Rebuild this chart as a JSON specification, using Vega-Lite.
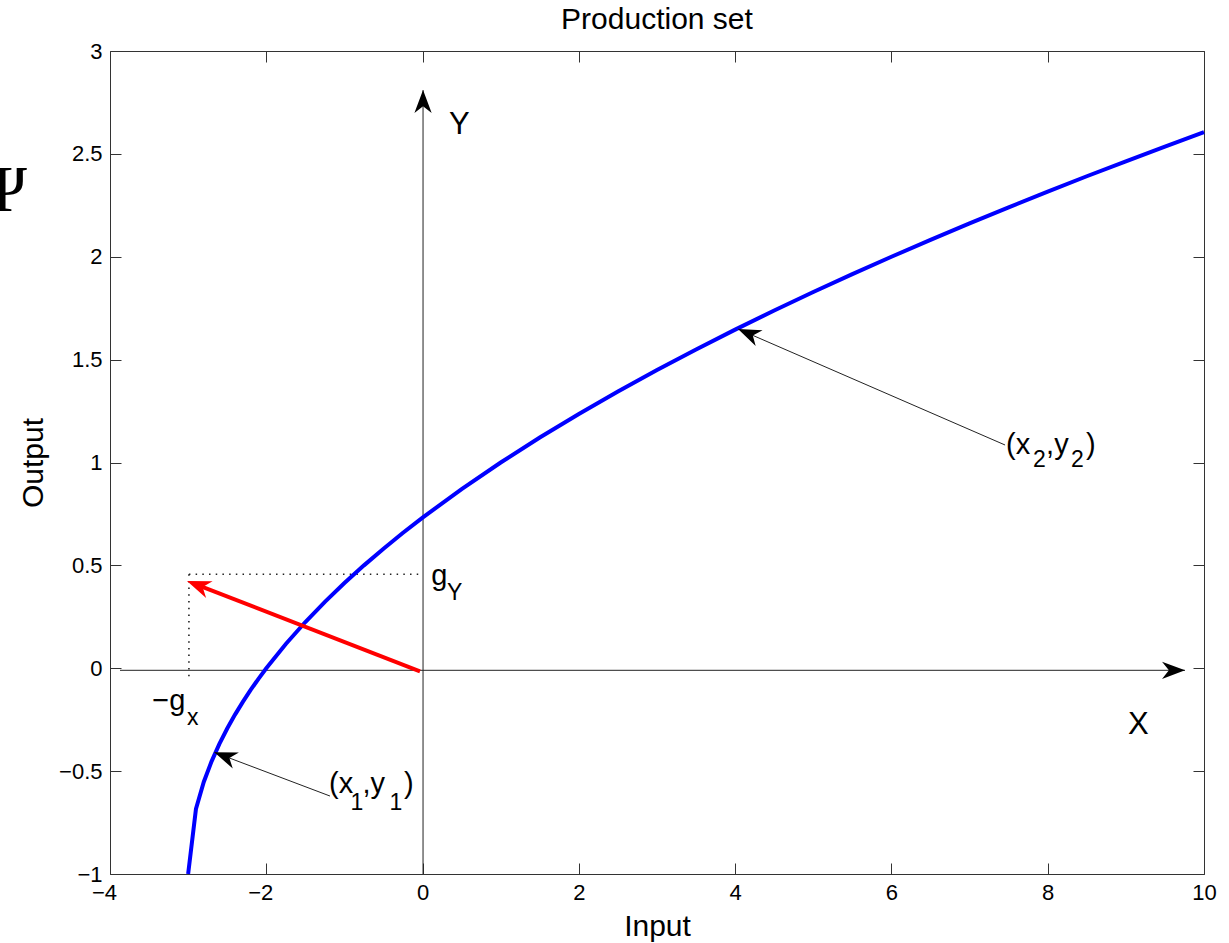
{
  "$schema": "https://vega.github.io/schema/vega-lite/v6.json",
  "width": 1094,
  "height": 823,
  "autosize": {"type": "none"},
  "padding": {"left": 110, "top": 51, "right": 25, "bottom": 69},
  "background": "white",
  "title": {
    "text": "Production set",
    "font": "Liberation Sans",
    "fontSize": 30,
    "fontWeight": "normal",
    "color": "black",
    "anchor": "middle",
    "frame": "group",
    "baseline": "alphabetic",
    "offset": -19
  },
  "config": {
    "font": "Liberation Sans",
    "view": {"stroke": null},
    "axis": {
      "grid": false,
      "domainColor": "#333333",
      "domainWidth": 1,
      "tickColor": "#333333",
      "tickWidth": 1,
      "tickSize": -11,
      "format": "~r",
      "labelFont": "Liberation Sans",
      "labelFontSize": 22,
      "labelColor": "black",
      "labelFlush": false,
      "labelOverlap": false,
      "titleFont": "Liberation Sans",
      "titleFontSize": 30,
      "titleFontWeight": "normal",
      "titleColor": "black"
    }
  },
  "datasets": {
    "curve": [
      {"x": -3, "y": -1}, {"x": -2.9, "y": -0.6838}, {"x": -2.8, "y": -0.5528},
      {"x": -2.7, "y": -0.4523}, {"x": -2.6, "y": -0.3675}, {"x": -2.5, "y": -0.2929},
      {"x": -2.4, "y": -0.2254}, {"x": -2.3, "y": -0.1633}, {"x": -2.2, "y": -0.1056},
      {"x": -2.1, "y": -0.0513}, {"x": -2, "y": 0}, {"x": -1.75, "y": 0.118},
      {"x": -1.5, "y": 0.2247}, {"x": -1.25, "y": 0.3229}, {"x": -1, "y": 0.4142},
      {"x": -0.75, "y": 0.5}, {"x": -0.5, "y": 0.5811}, {"x": -0.25, "y": 0.6583},
      {"x": 0, "y": 0.7321}, {"x": 0.5, "y": 0.8708}, {"x": 1, "y": 1},
      {"x": 1.5, "y": 1.1213}, {"x": 2, "y": 1.2361}, {"x": 2.5, "y": 1.3452},
      {"x": 3, "y": 1.4495}, {"x": 3.5, "y": 1.5495}, {"x": 4, "y": 1.6458},
      {"x": 4.5, "y": 1.7386}, {"x": 5, "y": 1.8284}, {"x": 5.5, "y": 1.9155},
      {"x": 6, "y": 2}, {"x": 6.5, "y": 2.0822}, {"x": 7, "y": 2.1623},
      {"x": 7.5, "y": 2.2404}, {"x": 8, "y": 2.3166}, {"x": 8.5, "y": 2.3912},
      {"x": 9, "y": 2.4641}, {"x": 9.5, "y": 2.5355}, {"x": 10, "y": 2.6056}
    ],
    "cross": [
      {"x": -3.872, "y": -0.01, "x2": 9.757, "y2": -0.01},
      {"x": 0.006, "y": -1, "x2": 0.006, "y2": 2.81}
    ],
    "dotted": [
      {"x": -2.99, "y": 0.457, "x2": 0.0, "y2": 0.457},
      {"x": -2.99, "y": 0.457, "x2": -2.99, "y2": -0.04}
    ],
    "pointers": [
      {"x": 7.454, "y": 1.085, "x2": 4.037, "y2": 1.649},
      {"x": -1.185, "y": -0.621, "x2": -2.665, "y2": -0.4085}
    ],
    "heads": [
      {"x": 0.006, "y": 2.81, "angle": 270},
      {"x": 9.757, "y": -0.01, "angle": 0},
      {"x": 4.037, "y": 1.649, "angle": 203.5},
      {"x": -2.665, "y": -0.4085, "angle": 200.8}
    ],
    "gradient": [
      {"x": -0.033, "y": -0.015, "x2": -2.835, "y2": 0.398}
    ],
    "gradientHead": [
      {"x": -3.015, "y": 0.424, "angle": 201.1}
    ],
    "labels": [
      {"text": "Y", "x": 0.338, "y": 2.597, "kind": "big"},
      {"text": "X", "x": 9.028, "y": -0.32, "kind": "big"},
      {"text": "g", "x": 0.11, "y": 0.405, "kind": "main"},
      {"text": "Y", "x": 0.313, "y": 0.332, "kind": "sub"},
      {"text": "−g", "x": -3.46, "y": -0.203, "kind": "main"},
      {"text": "x", "x": -3.015, "y": -0.276, "kind": "sub"},
      {"text": "(x", "x": -1.197, "y": -0.608, "kind": "main"},
      {"text": "1", "x": -0.922, "y": -0.689, "kind": "sub"},
      {"text": ",y", "x": -0.769, "y": -0.608, "kind": "main"},
      {"text": "1", "x": -0.423, "y": -0.689, "kind": "sub"},
      {"text": ")", "x": -0.238, "y": -0.608, "kind": "main"},
      {"text": "(x", "x": 7.467, "y": 1.041, "kind": "main"},
      {"text": "2", "x": 7.812, "y": 0.978, "kind": "sub"},
      {"text": ",y", "x": 7.979, "y": 1.041, "kind": "main"},
      {"text": "2", "x": 8.298, "y": 0.978, "kind": "sub"},
      {"text": ")", "x": 8.49, "y": 1.041, "kind": "main"}
    ],
    "symbol": [
      {"text": "Ψ", "x": -5.375, "y": 2.222}
    ]
  },
  "layer": [
    {
      "encoding": {
        "x": {
          "field": "x", "type": "quantitative",
          "scale": {"domain": [-4, 10], "nice": false, "zero": false},
          "axis": {
            "orient": "bottom",
            "values": [-4, -2, 0, 2, 4, 6, 8, 10],
            "title": "Input",
            "labelPadding": 19,
            "labelOffset": {"condition": {"test": "datum.value < 0", "value": -6}, "value": 0},
            "titleY": 61,
            "titleBaseline": "alphabetic"
          }
        },
        "y": {
          "field": "y", "type": "quantitative",
          "scale": {"domain": [-1, 3], "nice": false, "zero": false},
          "axis": {
            "orient": "left",
            "values": [-1, -0.5, 0, 0.5, 1, 1.5, 2, 2.5, 3],
            "title": "Output",
            "labelPadding": 19,
            "titleX": -68,
            "titleAngle": 270,
            "titleBaseline": "alphabetic"
          }
        }
      },
      "layer": [
        {
          "data": {"name": "cross"},
          "mark": {"type": "rule", "color": "#222222", "strokeWidth": 1},
          "encoding": {"x2": {"field": "x2"}, "y2": {"field": "y2"}}
        },
        {
          "data": {"name": "dotted"},
          "mark": {"type": "rule", "color": "#222222", "strokeWidth": 1.6, "strokeDash": [1.5, 5.2]},
          "encoding": {"x2": {"field": "x2"}, "y2": {"field": "y2"}}
        }
      ]
    },
    {
      "encoding": {
        "x": {
          "field": "x", "type": "quantitative",
          "scale": {"domain": [-4, 10], "nice": false, "zero": false},
          "axis": {"orient": "top", "values": [-4, -2, 0, 2, 4, 6, 8, 10], "labels": false, "title": null}
        },
        "y": {
          "field": "y", "type": "quantitative",
          "scale": {"domain": [-1, 3], "nice": false, "zero": false},
          "axis": {"orient": "right", "values": [-1, -0.5, 0, 0.5, 1, 1.5, 2, 2.5, 3], "labels": false, "title": null}
        }
      },
      "layer": [
        {
          "data": {"name": "curve"},
          "mark": {"type": "line", "color": "#0000ff", "strokeWidth": 4}
        },
        {
          "data": {"name": "gradient"},
          "mark": {"type": "rule", "color": "#ff0000", "strokeWidth": 4},
          "encoding": {"x2": {"field": "x2"}, "y2": {"field": "y2"}}
        },
        {
          "data": {"name": "gradientHead"},
          "mark": {"type": "point", "shape": "M0,0L-1,-0.375L-0.7,0L-1,0.375Z", "filled": true, "color": "#ff0000", "opacity": 1, "size": 2304},
          "encoding": {"angle": {"field": "angle", "type": "quantitative", "scale": null}}
        },
        {
          "data": {"name": "pointers"},
          "mark": {"type": "rule", "color": "#222222", "strokeWidth": 1},
          "encoding": {"x2": {"field": "x2"}, "y2": {"field": "y2"}}
        },
        {
          "data": {"name": "heads"},
          "mark": {"type": "point", "shape": "M0,0L-1,-0.375L-0.7,0L-1,0.375Z", "filled": true, "color": "#000000", "opacity": 1, "size": 2116},
          "encoding": {"angle": {"field": "angle", "type": "quantitative", "scale": null}}
        },
        {
          "data": {"name": "labels"},
          "transform": [{"filter": "datum.kind === 'big'"}],
          "mark": {"type": "text", "align": "left", "baseline": "alphabetic", "font": "Liberation Sans", "fontSize": 31, "color": "black"},
          "encoding": {"text": {"field": "text"}}
        },
        {
          "data": {"name": "labels"},
          "transform": [{"filter": "datum.kind === 'main'"}],
          "mark": {"type": "text", "align": "left", "baseline": "alphabetic", "font": "Liberation Sans", "fontSize": 29, "color": "black"},
          "encoding": {"text": {"field": "text"}}
        },
        {
          "data": {"name": "labels"},
          "transform": [{"filter": "datum.kind === 'sub'"}],
          "mark": {"type": "text", "align": "left", "baseline": "alphabetic", "font": "Liberation Sans", "fontSize": 23, "color": "black"},
          "encoding": {"text": {"field": "text"}}
        },
        {
          "data": {"name": "symbol"},
          "mark": {"type": "text", "align": "center", "baseline": "alphabetic", "font": "Liberation Serif", "fontSize": 66, "color": "black"},
          "encoding": {"text": {"field": "text"}}
        }
      ]
    }
  ],
  "resolve": {"axis": {"x": "independent", "y": "independent"}}
}
